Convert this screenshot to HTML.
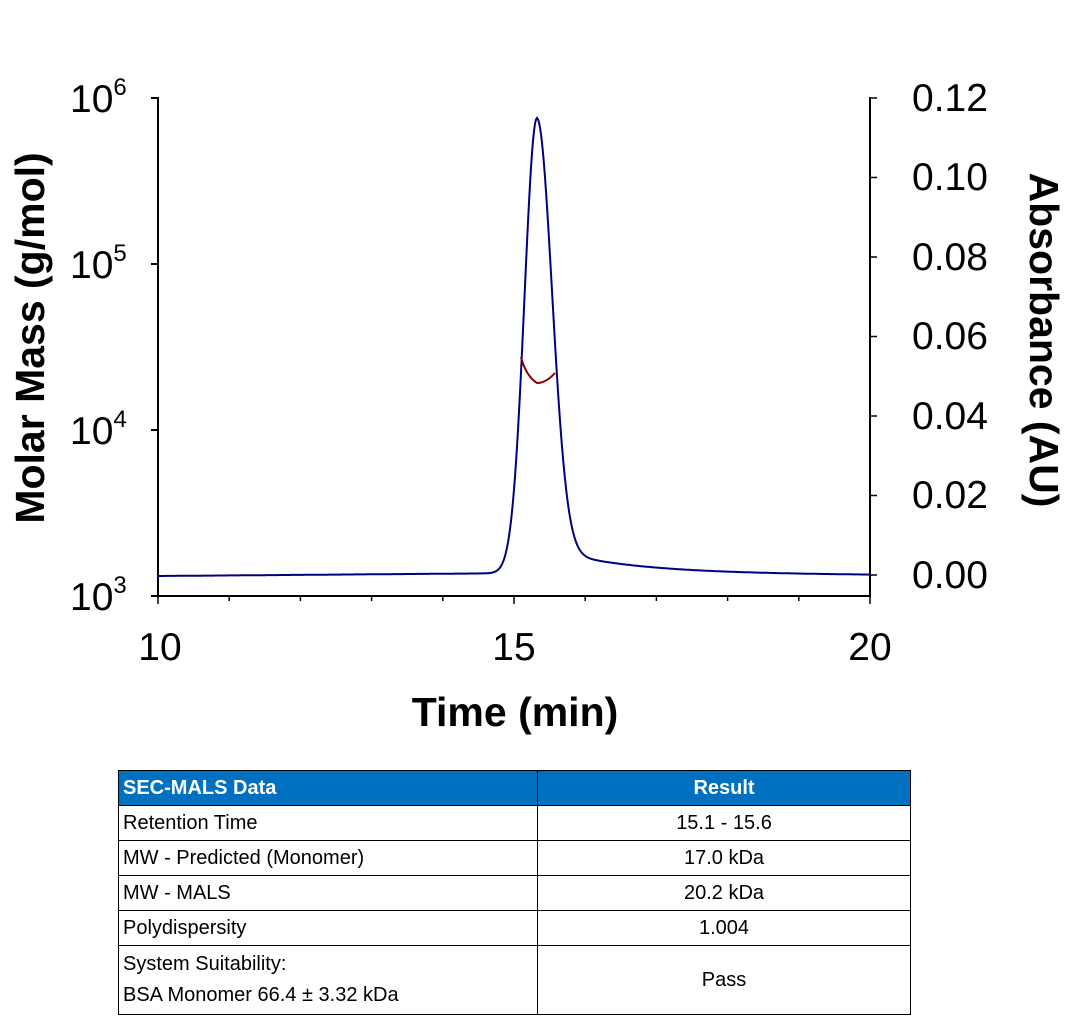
<!DOCTYPE html>
<html><head><meta charset="utf-8"><style>
body{margin:0;background:#fff;width:1069px;height:1019px;overflow:hidden;font-family:"Liberation Sans",sans-serif;}
svg{position:absolute;left:0;top:0}
table{position:absolute;left:118px;top:770px;border-collapse:collapse;font-size:20px;}
td{border:1px solid #000;padding:0 4px;height:34px;}
th{background:#0070c0;color:#fff;text-align:left;padding:0 4px;height:34px;border:1px solid #000;font-size:20px}
</style></head><body>
<svg width="1069" height="760" id="s">
<g stroke="#000" stroke-width="2" fill="none">
<line x1="158" y1="97" x2="158" y2="597"/>
<line x1="157" y1="596" x2="871" y2="596"/>
<line x1="870" y1="97" x2="870" y2="597"/>
<line x1="151" y1="98" x2="158" y2="98"/><line x1="151" y1="264" x2="158" y2="264"/><line x1="151" y1="430" x2="158" y2="430"/><line x1="151" y1="596" x2="158" y2="596"/>
</g>
<g id="tk" stroke="#000" stroke-width="1.5"></g>
<g font-size="39" fill="#000">
<text x="70" y="112">10<tspan font-size="24" dy="-17">6</tspan></text>
<text x="70" y="278">10<tspan font-size="24" dy="-17">5</tspan></text>
<text x="70" y="444">10<tspan font-size="24" dy="-17">4</tspan></text>
<text x="70" y="610">10<tspan font-size="24" dy="-17">3</tspan></text>
<g text-anchor="start">
<text x="912" y="111">0.12</text><text x="912" y="190">0.10</text><text x="912" y="270">0.08</text><text x="912" y="349">0.06</text><text x="912" y="429">0.04</text><text x="912" y="508">0.02</text><text x="912" y="588">0.00</text>
</g>
<g text-anchor="middle"><text x="160" y="660">10</text><text x="514" y="660">15</text><text x="870" y="660">20</text></g>
<text x="515" y="726" text-anchor="middle" font-weight="bold" font-size="41">Time (min)</text>
<text transform="translate(44,338) rotate(-90)" text-anchor="middle" font-weight="bold" font-size="41">Molar Mass (g/mol)</text>
<text transform="translate(1030,340) rotate(90)" text-anchor="middle" font-weight="bold" font-size="41">Absorbance (AU)</text>
</g>
<path id="c" fill="none" stroke="#000080" stroke-width="2"/>
<path d="M521,357 Q526,376 537,383 Q546,383 555,373" fill="none" stroke="#8b0000" stroke-width="2"/>
</svg>
<table>
<tr><th style="width:410px">SEC-MALS Data</th><th style="width:364px;text-align:center">Result</th></tr>
<tr><td>Retention Time</td><td align="center">15.1 - 15.6</td></tr>
<tr><td>MW - Predicted (Monomer)</td><td align="center">17.0 kDa</td></tr>
<tr><td>MW - MALS</td><td align="center">20.2 kDa</td></tr>
<tr><td>Polydispersity</td><td align="center">1.004</td></tr>
<tr><td style="height:68px;line-height:31px">System Suitability:<br>BSA Monomer 66.4 ± 3.32 kDa</td><td align="center">Pass</td></tr>
</table>
<script>
var tk=document.getElementById('tk'),h='';
for(var i=0;i<=10;i++){var x=158+i*71.2;h+='<line x1="'+x+'" y1="596" x2="'+x+'" y2="'+(i%5==0?604:601)+'"/>';}
for(var j=0;j<=6;j++){var y=98+j*79.5;h+='<line x1="870" y1="'+y+'" x2="877" y2="'+y+'"/>';}
tk.innerHTML=h;
var d='';
for(var x=158;x<=870;x+=1){
 var base;
 if(x<537) base=576-3*(x-158)/379;
 else base=573+2*(x-537)/333;
 var dx=x-537,g;
 if(dx<0) g=Math.exp(-dx*dx/(2*12.5*12.5));
 else g=0.94*Math.exp(-dx*dx/(2*15*15))+0.06*Math.exp(-dx/80);
 var y=base-455*g;
 d+=(x==158?'M':'L')+x+','+y.toFixed(1);
}
document.getElementById('c').setAttribute('d',d);
</script>
</body></html>
